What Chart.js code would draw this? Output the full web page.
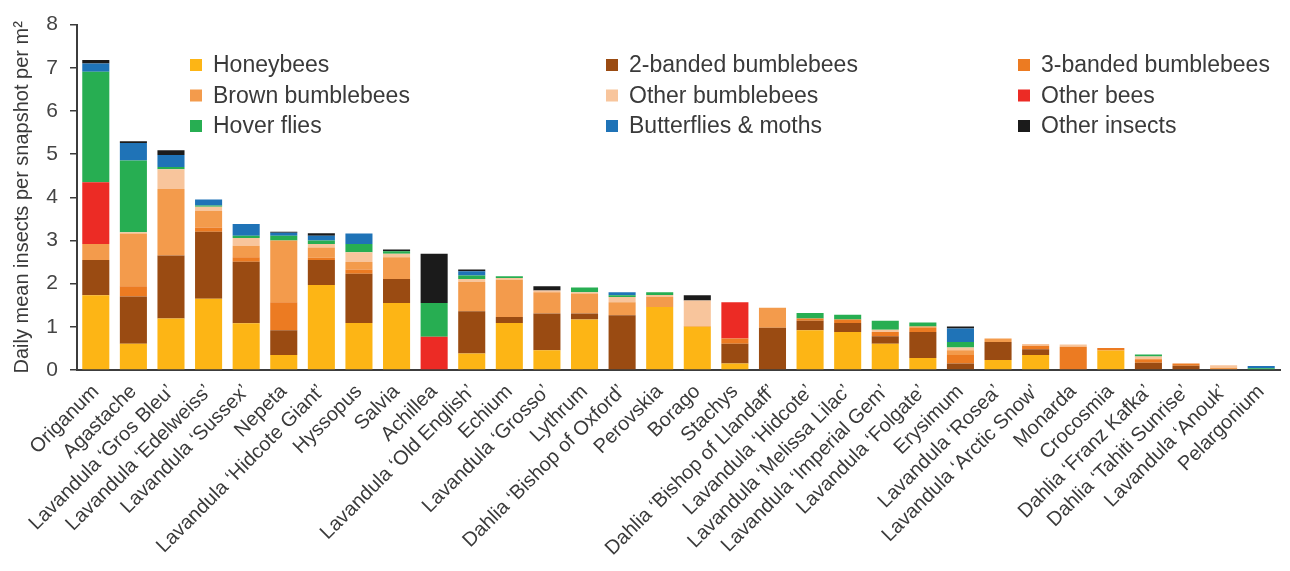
<!DOCTYPE html>
<html>
<head>
<meta charset="utf-8">
<script src="https://cdn.jsdelivr.net/npm/chart.js@4.4.1/dist/chart.umd.min.js"></script>
<style>
  html, body { margin: 0; padding: 0; background: #ffffff; }
  #wrap { width: 1290px; height: 571px; position: relative; }
</style>
</head>
<body>
<div id="wrap"><canvas id="chart" width="1290" height="571"></canvas></div>
<script>
// Plant varieties, ordered by total visits
const plants = [
  "Origanum", "Agastache", "Lavandula \u2018Gros Bleu\u2019", "Lavandula \u2018Edelweiss\u2019",
  "Lavandula \u2018Sussex\u2019", "Nepeta", "Lavandula \u2018Hidcote Giant\u2019", "Hyssopus",
  "Salvia", "Achillea", "Lavandula \u2018Old English\u2019", "Echium",
  "Lavandula \u2018Grosso\u2019", "Lythrum", "Dahlia \u2018Bishop of Oxford\u2019", "Perovskia",
  "Borago", "Stachys", "Dahlia \u2018Bishop of Llandaff\u2019", "Lavandula \u2018Hidcote\u2019",
  "Lavandula \u2018Melissa Lilac\u2019", "Lavandula \u2018Imperial Gem\u2019", "Lavandula \u2018Folgate\u2019", "Erysimum",
  "Lavandula \u2018Rosea\u2019", "Lavandula \u2018Arctic Snow\u2019", "Monarda", "Crocosmia",
  "Dahlia \u2018Franz Kafka\u2019", "Dahlia \u2018Tahiti Sunrise\u2019", "Lavandula \u2018Anouk\u2019", "Pelargonium"
];

// Daily mean insects per snapshot per m², by insect group
const honeybees       = [1.73, 0.61, 1.19, 1.65, 1.08, 0.35, 1.97, 1.09, 1.55, 0.00, 0.38, 1.09, 0.46, 1.17, 0.00, 1.46, 1.00, 0.15, 0.00, 0.92, 0.88, 0.61, 0.28, 0.00, 0.23, 0.35, 0.00, 0.45, 0.00, 0.00, 0.00, 0.00];
const twoBanded       = [0.82, 1.09, 1.46, 1.55, 1.43, 0.57, 0.58, 1.14, 0.56, 0.00, 0.98, 0.14, 0.85, 0.14, 1.27, 0.00, 0.00, 0.46, 0.98, 0.22, 0.21, 0.17, 0.60, 0.15, 0.42, 0.13, 0.00, 0.00, 0.17, 0.10, 0.02, 0.00];
const threeBanded     = [0.00, 0.24, 0.00, 0.10, 0.10, 0.65, 0.05, 0.10, 0.00, 0.00, 0.00, 0.00, 0.00, 0.00, 0.00, 0.00, 0.00, 0.12, 0.00, 0.05, 0.08, 0.10, 0.10, 0.20, 0.00, 0.08, 0.54, 0.06, 0.08, 0.05, 0.00, 0.00];
const brownBumble     = [0.37, 1.22, 1.54, 0.39, 0.27, 1.43, 0.24, 0.17, 0.50, 0.00, 0.68, 0.86, 0.49, 0.46, 0.30, 0.23, 0.02, 0.00, 0.46, 0.00, 0.00, 0.00, 0.03, 0.11, 0.08, 0.00, 0.00, 0.00, 0.00, 0.00, 0.03, 0.00];
const otherBumble     = [0.00, 0.03, 0.46, 0.09, 0.18, 0.00, 0.08, 0.23, 0.08, 0.00, 0.07, 0.04, 0.04, 0.03, 0.12, 0.05, 0.59, 0.00, 0.00, 0.00, 0.00, 0.05, 0.00, 0.06, 0.00, 0.04, 0.05, 0.00, 0.06, 0.00, 0.06, 0.00];
const otherBees       = [1.43, 0.00, 0.00, 0.00, 0.00, 0.00, 0.00, 0.00, 0.00, 0.77, 0.00, 0.00, 0.00, 0.00, 0.00, 0.00, 0.00, 0.84, 0.00, 0.00, 0.00, 0.00, 0.00, 0.00, 0.00, 0.00, 0.00, 0.00, 0.00, 0.00, 0.00, 0.00];
const hoverFlies      = [2.56, 1.66, 0.05, 0.03, 0.05, 0.11, 0.08, 0.19, 0.06, 0.78, 0.08, 0.04, 0.00, 0.11, 0.04, 0.06, 0.00, 0.00, 0.00, 0.13, 0.11, 0.21, 0.09, 0.13, 0.00, 0.00, 0.00, 0.00, 0.05, 0.00, 0.00, 0.04];
const butterflies     = [0.19, 0.41, 0.28, 0.14, 0.27, 0.07, 0.11, 0.24, 0.00, 0.00, 0.10, 0.00, 0.00, 0.00, 0.07, 0.00, 0.00, 0.00, 0.00, 0.00, 0.00, 0.00, 0.00, 0.31, 0.00, 0.00, 0.00, 0.00, 0.00, 0.00, 0.00, 0.05];
const otherInsects    = [0.08, 0.04, 0.11, 0.00, 0.00, 0.02, 0.06, 0.00, 0.04, 1.14, 0.04, 0.00, 0.10, 0.00, 0.00, 0.00, 0.12, 0.00, 0.00, 0.00, 0.00, 0.00, 0.00, 0.05, 0.00, 0.00, 0.00, 0.00, 0.00, 0.00, 0.00, 0.00];

// Y axis tick values
const yTicks = [0, 1, 2, 3, 4, 5, 6, 7, 8];

const groups = [
  { label: "Honeybees",            data: honeybees,    color: "#FDB515" },
  { label: "2-banded bumblebees",  data: twoBanded,    color: "#9A4B12" },
  { label: "3-banded bumblebees",  data: threeBanded,  color: "#EC7B22" },
  { label: "Brown bumblebees",     data: brownBumble,  color: "#F39B4C" },
  { label: "Other bumblebees",     data: otherBumble,  color: "#F8C59C" },
  { label: "Other bees",           data: otherBees,    color: "#EC2B25" },
  { label: "Hover flies",          data: hoverFlies,   color: "#27AE52" },
  { label: "Butterflies & moths",  data: butterflies,  color: "#1F73B7" },
  { label: "Other insects",        data: otherInsects, color: "#1B1B1B" }
];

const FONT = "'Liberation Sans', Arial, Helvetica, sans-serif";
const TEXT = "#3a3a3a";

// Three-column legend drawn inside the plot area
const gridLegend = {
  id: "gridLegend",
  afterDraw(chart, args, opts) {
    const ctx = chart.ctx;
    ctx.save();
    ctx.font = opts.fontSize + "px " + FONT;
    ctx.textBaseline = "middle";
    ctx.textAlign = "left";
    chart.data.datasets.forEach((ds, i) => {
      const col = i % 3, row = Math.floor(i / 3);
      const x = opts.columns[col];
      const y = opts.top + row * opts.rowGap;
      ctx.fillStyle = ds.backgroundColor;
      ctx.fillRect(x, y - opts.box / 2, opts.box, opts.box);
      ctx.fillStyle = TEXT;
      ctx.fillText(ds.label, x + opts.box + opts.gap, y + 1);
    });
    ctx.restore();
  }
};

new Chart(document.getElementById("chart"), {
  type: "bar",
  data: {
    labels: plants,
    datasets: groups.map(g => ({
      label: g.label,
      data: g.data,
      backgroundColor: g.color,
      borderWidth: 0,
      categoryPercentage: 1.0,
      barPercentage: 0.72
    }))
  },
  options: {
    responsive: false,
    animation: false,
    layout: { padding: { left: 10, right: 10, top: 23, bottom: 0 } },
    plugins: {
      legend: { display: false },
      tooltip: { enabled: false },
      gridLegend: { columns: [190, 606, 1018], top: 65, rowGap: 30.5, box: 12, gap: 11, fontSize: 23 }
    },
    scales: {
      x: {
        stacked: true,
        grid: { display: false },
        border: { display: true, color: "#3c3c3c", width: 2 },
        ticks: {
          autoSkip: false,
          minRotation: 45,
          maxRotation: 45,
          padding: 2,
          color: TEXT,
          font: { family: FONT, size: 20 }
        },
        afterFit(scale) { scale.height = 201; }
      },
      y: {
        stacked: true,
        min: 0,
        max: 8,
        afterBuildTicks(scale) { scale.ticks = yTicks.map(v => ({ value: v })); },
        grid: { display: true, drawOnChartArea: false, drawTicks: true, tickLength: 7, color: "#3c3c3c", lineWidth: 1.5 },
        border: { display: true, color: "#3c3c3c", width: 2 },
        ticks: {
          padding: 12,
          color: "#444444",
          font: { family: FONT, size: 21 }
        },
        title: {
          display: true,
          text: "Daily mean insects per snapshot per m\u00B2",
          color: TEXT,
          font: { family: FONT, size: 20 },
          padding: { top: 0, bottom: 2 }
        },
        afterFit(scale) { scale.width = 67; }
      }
    }
  },
  plugins: [gridLegend]
});
</script>
</body>
</html>
